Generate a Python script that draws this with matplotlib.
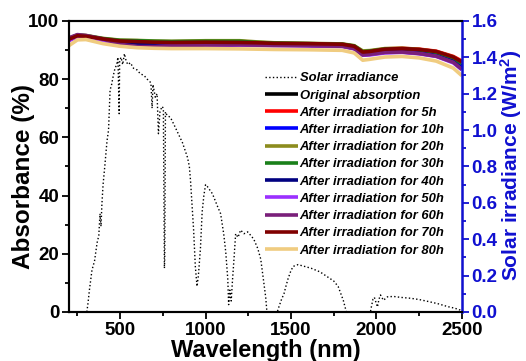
import matplotlib
matplotlib.use("Agg")
import matplotlib.pyplot as plt
from matplotlib.ticker import MultipleLocator

plt.rcParams['font.family'] = ['Liberation Sans', 'DejaVu Sans']
plt.rcParams['font.weight'] = 'bold'
plt.rcParams['mathtext.fontset'] = 'custom'
plt.rcParams['mathtext.rm'] = 'Liberation Sans:bold'
plt.rcParams['mathtext.bf'] = 'Liberation Sans:bold'
plt.rcParams['mathtext.default'] = 'bf'

# absorbance spectra (%)
abs_wl = [200, 250, 300, 400, 500, 600, 700, 800, 1000, 1200, 1300, 1400,
          1600, 1800, 1870, 1920, 1960, 2050, 2150, 2250, 2350, 2450, 2500]
abs_original = [93.5, 94.8, 94.5, 93.5, 92.8, 92.5, 92.3, 92.2, 92.2, 92.1, 92.0, 91.8,
                91.7, 91.5, 90.8, 88.6, 88.8, 89.5, 89.6, 89.2, 88.3, 86.5, 84.5]
abs_5h = [93.8, 95.0, 94.7, 93.7, 93.0, 92.8, 92.6, 92.5, 92.5, 92.4, 92.3, 92.1,
          92.0, 91.9, 91.3, 89.5, 89.6, 90.4, 90.6, 90.3, 89.6, 87.8, 86.2]
abs_10h = [93.6, 94.9, 94.6, 93.6, 92.9, 92.6, 92.4, 92.3, 92.3, 92.2, 92.1, 91.9,
           91.8, 91.6, 90.9, 88.8, 89.0, 89.7, 89.8, 89.3, 88.5, 86.4, 84.0]
abs_20h = [94.0, 95.2, 95.0, 94.0, 93.4, 93.3, 93.1, 93.0, 93.2, 93.2, 92.8, 92.5,
           92.3, 92.1, 91.5, 89.7, 89.8, 90.5, 90.6, 90.2, 89.4, 87.6, 85.6]
abs_30h = [93.9, 95.1, 94.9, 93.9, 93.3, 93.2, 93.0, 92.9, 93.0, 93.0, 92.6, 92.4,
           92.2, 92.0, 91.4, 89.4, 89.6, 90.3, 90.4, 90.0, 89.2, 87.3, 85.4]
abs_40h = [93.5, 94.7, 94.4, 93.4, 92.7, 92.4, 92.2, 92.1, 92.1, 92.0, 91.9, 91.7,
           91.6, 91.4, 90.6, 88.4, 88.6, 89.3, 89.4, 88.9, 88.0, 86.0, 83.6]
abs_50h = [93.2, 94.6, 94.3, 92.6, 91.5, 91.0, 91.1, 91.3, 91.6, 91.7, 91.6, 91.5,
           91.4, 91.2, 90.4, 88.2, 88.3, 89.0, 89.2, 88.7, 87.8, 85.6, 83.2]
abs_60h = [94.2, 95.3, 95.0, 93.8, 92.0, 91.2, 91.2, 91.4, 91.7, 91.8, 91.7, 91.6,
           91.5, 91.3, 90.5, 88.3, 88.5, 89.2, 89.3, 88.8, 87.9, 85.8, 83.4]
abs_70h = [93.7, 94.9, 94.7, 93.8, 93.1, 92.9, 92.7, 92.6, 92.7, 92.6, 92.5, 92.3,
           92.2, 92.0, 91.3, 89.3, 89.5, 90.3, 90.5, 90.2, 89.5, 87.6, 85.9]
abs_80h = [91.5, 93.5, 93.6, 92.2, 91.3, 90.8, 90.6, 90.5, 90.5, 90.4, 90.3, 90.2,
           90.1, 89.9, 89.0, 86.5, 86.8, 87.6, 87.8, 87.3, 86.2, 83.8, 81.2]

series_labels = ['Original absorption', 'After irradiation for 5h', 'After irradiation for 10h',
                 'After irradiation for 20h', 'After irradiation for 30h', 'After irradiation for 40h',
                 'After irradiation for 50h', 'After irradiation for 60h', 'After irradiation for 70h',
                 'After irradiation for 80h']
series_colors = ['#000000', '#ff0000', '#0000ff', '#8c8c1e', '#1a801a', '#000080',
                 '#9b30ff', '#7a1f7a', '#800000', '#f0cc80']

# AM1.5 solar irradiance (W/m^2/nm)
solar_wl = [305, 312, 320, 335, 350, 365, 375, 382, 388, 393, 400, 410, 423, 432, 441, 450,
            460, 470, 480, 487, 494, 497, 505, 515, 525, 535, 545, 560, 578, 600, 617, 640,
            658, 680, 687, 692, 706, 716, 724, 733, 745, 753, 759, 761, 765, 775, 794, 815,
            835, 865, 894, 905, 912, 920, 930, 940, 950, 958, 970, 980, 990, 1000, 1010, 1040,
            1070, 1088, 1106, 1118, 1130, 1135, 1142, 1150, 1158, 1167, 1176, 1190, 1205, 1225,
            1246, 1265, 1282, 1305, 1323, 1341, 1352, 1359, 1365, 1420, 1430, 1445, 1459, 1470,
            1482, 1497, 1512, 1541, 1580, 1618, 1670, 1718, 1750, 1776, 1806, 1824, 1965, 1971,
            1980, 1988, 2006, 2015, 2024, 2041, 2065, 2100, 2141, 2200, 2250, 2300, 2360, 2418,
            2460, 2490, 2500]
solar_irr = [0.0, 0.05, 0.12, 0.23, 0.28, 0.38, 0.42, 0.54, 0.47, 0.59, 0.70, 0.80, 0.94, 1.00,
             1.22, 1.25, 1.30, 1.34, 1.36, 1.40, 1.09, 1.38, 1.40, 1.36, 1.42, 1.38, 1.36, 1.37,
             1.34, 1.33, 1.31, 1.30, 1.28, 1.26, 1.12, 1.25, 1.18, 1.20, 0.98, 1.10, 1.13, 1.12,
             0.24, 0.30, 1.10, 1.08, 1.07, 1.03, 0.99, 0.93, 0.85, 0.80, 0.72, 0.60, 0.45, 0.25,
             0.14, 0.20, 0.35, 0.55, 0.64, 0.70, 0.69, 0.65, 0.58, 0.54, 0.43, 0.33, 0.18, 0.04,
             0.12, 0.06, 0.18, 0.30, 0.43, 0.41, 0.45, 0.43, 0.44, 0.42, 0.40, 0.35, 0.29, 0.16,
             0.08, 0.0, 0.0, 0.0, 0.03, 0.07, 0.10, 0.14, 0.18, 0.22, 0.25, 0.26, 0.25, 0.24,
             0.22, 0.19, 0.17, 0.14, 0.064, 0.0, 0.0, 0.03, 0.07, 0.08, 0.027, 0.07, 0.093,
             0.064, 0.083, 0.085, 0.08, 0.075, 0.068, 0.058, 0.045, 0.029, 0.02, 0.01, 0.0]

absorbance = [abs_original, abs_5h, abs_10h, abs_20h, abs_30h, abs_40h,
              abs_50h, abs_60h, abs_70h, abs_80h]

blue = '#1010d0'

fig = plt.figure(figsize=(5.26, 3.61), dpi=100)
ax = fig.add_axes([0.131, 0.136, 0.747, 0.806])
ax2 = ax.twinx()

handles = []
for vals, lab, col in zip(absorbance, series_labels, series_colors):
    h, = ax.plot(abs_wl, vals, color=col, lw=2.6, label=lab, solid_capstyle='butt')
    handles.append(h)

hs, = ax2.plot(solar_wl, solar_irr, color='black', lw=1.0, ls=':', label='Solar irradiance')

ax.set_xlim(200, 2500)
ax.set_ylim(0, 100)

ax.xaxis.set_major_locator(MultipleLocator(500))
ax.xaxis.set_minor_locator(MultipleLocator(250))
ax.yaxis.set_major_locator(MultipleLocator(20))
ax.yaxis.set_minor_locator(MultipleLocator(10))
ax2.yaxis.set_minor_locator(MultipleLocator(0.1))
right_ticks = [0.0, 0.2, 0.4, 0.6, 0.8, 1.0, 1.2, 1.4, 1.6]
ax2.set_yticks(right_ticks)
ax2.set_yticklabels(['%.1f' % v for v in right_ticks])
ax2.set_ylim(0, 1.6)

ax.tick_params(which='both', direction='out', width=1.3, labelsize=13.5, pad=2)
ax.tick_params(which='major', length=5)
ax.tick_params(which='minor', length=3)
ax2.tick_params(which='both', direction='out', width=1.3, colors=blue,
                labelsize=13.5, pad=2)
ax2.tick_params(which='major', length=5)
ax2.tick_params(which='minor', length=3)

for s in ['left', 'bottom', 'top']:
    ax.spines[s].set_linewidth(1.5)
    ax2.spines[s].set_linewidth(1.5)
ax2.spines['right'].set_color(blue)
ax2.spines['right'].set_linewidth(1.8)

ax.set_xlabel('Wavelength (nm)', fontsize=17, fontweight='bold', labelpad=0)
ax.set_ylabel('Absorbance (%)', fontsize=17.5, fontweight='bold')
ax.yaxis.set_label_coords(-0.087, 0.464)
ax2.set_ylabel(r'Solar irradiance (W/m$^2$)', fontsize=15, fontweight='bold', color=blue)
ax2.yaxis.set_label_coords(1.092, 0.505)

ax2.legend([hs] + handles, ['Solar irradiance'] + series_labels,
           loc='upper left', bbox_to_anchor=(0.504, 0.80), bbox_transform=fig.transFigure,
           frameon=False, borderpad=0, borderaxespad=0, handlelength=2.5,
           handletextpad=0.15, labelspacing=0.39,
           prop={'size': 9.4, 'style': 'italic', 'weight': 'bold'})

fig.savefig('out.png', dpi=100)
